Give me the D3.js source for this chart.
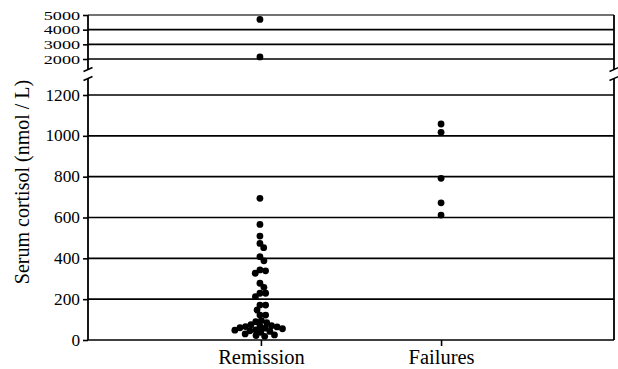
<!DOCTYPE html>
<html><head><meta charset="utf-8">
<script src="https://cdn.jsdelivr.net/npm/d3@7"></script>
<style>
body{margin:0;background:#fff}svg{display:block}
svg text{font-family:'Liberation Serif',Tinos,Times,serif !important;fill:#000}
</style>
</head><body>
<svg id="chart" width="618" height="369"></svg>
<script>
// ---- data ----
const categories = ["Remission", "Failures"];
const remissionValues = [4700, 2140,
  694, 566, 509, 473, 452, 408, 388, 343, 339, 327, 278, 258, 229, 229, 212,
  171, 171, 147, 122, 122,
  95, 90, 85, 75, 70, 68, 66, 64, 60, 58, 55, 50, 48, 45, 42, 38, 30, 25, 22, 18];
const failureValues = [1058, 1017, 792, 672, 612];
const lowerTicks = [0, 200, 400, 600, 800, 1000, 1200];
const upperTicks = [2000, 3000, 4000, 5000];
const yTitle = "Serum cortisol (nmol / L)";

// ---- layout ----
const svg = d3.select("#chart");
const left = 88, right = 614;

const x = d3.scalePoint().domain(categories).range([left, right]).padding(0.96);
const yLow = d3.scaleLinear().domain([0, 1200]).range([340, 95]);
const yHigh = d3.scaleLinear().domain([2000, 5000]).range([59, 15]);
const yOf = v => v >= 1500 ? yHigh(v) : yLow(v);

// gridlines
const gridG = svg.append("g").attr("stroke", "#000").attr("stroke-width", 1.6);
lowerTicks.forEach(t => gridG.append("line").attr("x1", left).attr("x2", right)
  .attr("y1", yLow(t)).attr("y2", yLow(t)));
upperTicks.forEach(t => gridG.append("line").attr("x1", left).attr("x2", right)
  .attr("y1", yHigh(t)).attr("y2", yHigh(t))
  .attr("stroke", t === 5000 ? "#444" : "#000"));

// vertical axis lines (broken)
const axG = svg.append("g").attr("stroke", "#000").attr("stroke-width", 1.8).attr("fill", "none");
[left, right].forEach(xx => {
  axG.append("line").attr("x1", xx).attr("x2", xx).attr("y1", yHigh(5000)).attr("y2", 69.5);
  axG.append("line").attr("x1", xx).attr("x2", xx).attr("y1", 78.5).attr("y2", yLow(0));
  axG.append("line").attr("x1", xx - 4.5).attr("x2", xx + 4.5).attr("y1", 71.5).attr("y2", 67.5).attr("stroke-width", 1.4);
  axG.append("line").attr("x1", xx - 4.5).attr("x2", xx + 4.5).attr("y1", 80.5).attr("y2", 76.5).attr("stroke-width", 1.4);
});

// y axes
function styleAxis(size, stretch) {
  return g => {
    g.select(".domain").remove();
    g.selectAll(".tick line").attr("stroke", "#000").attr("stroke-width", 1.6);
    g.selectAll(".tick text").attr("font-size", size)
      .attr("textLength", d => String(d).length * 0.5 * size * stretch)
      .attr("lengthAdjust", "spacingAndGlyphs");
  };
}
svg.append("g").attr("transform", `translate(${left},0)`)
  .call(d3.axisLeft(yLow).tickValues(lowerTicks).tickSize(5).tickPadding(3).tickFormat(d3.format("d")))
  .call(styleAxis(16, 1.08));
svg.append("g").attr("transform", `translate(${left},0)`)
  .call(d3.axisLeft(yHigh).tickValues(upperTicks).tickSize(5).tickPadding(3).tickFormat(d3.format("d")))
  .call(styleAxis(12.5, 1.45));

// x axis
svg.append("g").attr("transform", `translate(0,${yLow(0)})`)
  .call(d3.axisBottom(x).tickSize(6).tickPadding(3))
  .call(g => {
    g.select(".domain").remove();
    g.selectAll(".tick line").attr("stroke", "#000").attr("stroke-width", 1.6);
    g.selectAll(".tick text").attr("font-size", 20.5);
  });

// y title
svg.append("text")
  .attr("transform", `translate(29,${182}) rotate(-90)`)
  .attr("text-anchor", "middle")
  .attr("font-size", 20)
  .text(yTitle);

// beeswarm placement
const r = 3.4, d = 5.7;
function swarm(values, cx) {
  const placed = [];
  values.forEach(v => {
    const y = yOf(v);
    const near = placed.filter(p => Math.abs(p.y - y) < d);
    const cands = [0];
    near.forEach(p => {
      const dx = Math.sqrt(d * d - (p.y - y) ** 2);
      cands.push(p.dx + dx, p.dx - dx);
    });
    cands.sort((a, b) => Math.abs(a) - Math.abs(b));
    const ok = cands.find(c => near.every(p => (p.dx - c) ** 2 + (p.y - y) ** 2 >= d * d - 0.01));
    placed.push({ v, y, dx: ok, x: cx + ok });
  });
  return placed;
}
const pts = swarm(remissionValues, x("Remission") - 1)
  .concat(swarm(failureValues, x("Failures")));
svg.append("g").selectAll("circle").data(pts).join("circle")
  .attr("cx", p => p.x).attr("cy", p => p.y).attr("r", r).attr("fill", "#000");
</script>
</body></html>
